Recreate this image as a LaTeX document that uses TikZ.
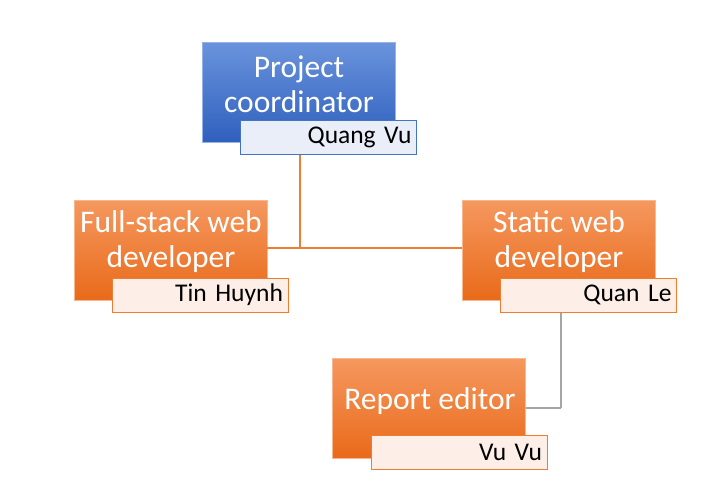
\documentclass[tikz,border=0pt]{standalone}
\usepackage{fontspec}
\setmainfont{Carlito}
\definecolor{bluetop}{HTML}{6A93DC}
\definecolor{bluebot}{HTML}{2F60BE}
\definecolor{blueedge}{HTML}{4472C4}
\definecolor{bluesub}{HTML}{E9EEF8}
\definecolor{orgtop}{HTML}{F5985F}
\definecolor{orgbot}{HTML}{E96A1A}
\definecolor{orgedge}{HTML}{ED7D31}
\definecolor{orgsub}{HTML}{FDEFE7}
\definecolor{linegray}{HTML}{A5A5A5}
\begin{document}
\begin{tikzpicture}[x=1pt,y=-1pt,
  rolebox/.style={rectangle,minimum width=193pt,minimum height=100pt,inner sep=0pt},
  bluebox/.style={rolebox,top color=bluetop,bottom color=bluebot,draw=bluetop!70!white,line width=0.8pt},
  orgbox/.style={rolebox,top color=orgtop,bottom color=orgbot,draw=orgtop!70!white,line width=0.8pt},
  roletext/.style={text=white,font=\fontsize{31.5}{35}\selectfont,align=center,inner sep=0pt},
  namebox/.style={rectangle,minimum width=176pt,minimum height=34pt,inner sep=0pt,line width=1pt,
    font=\fontsize{25.5}{28}\selectfont,align=right,text width=166pt},
  bluename/.style={namebox,fill=bluesub,draw=blueedge},
  orgname/.style={namebox,fill=orgsub,draw=orgedge},
  orgline/.style={draw=orgedge,line width=1.5pt},
  grayline/.style={draw=linegray,line width=1.5pt}
]
\useasboundingbox (0,0) rectangle (724,479);
\coordinate (j1) at (300,248);
\coordinate (j2) at (561,408);
\node[bluebox] (pc) at (299,92.5) {};
\node[orgbox] (fs) at (170.5,250) {};
\node[orgbox] (sw) at (558.5,250) {};
\node[orgbox] (re) at (429,408) {};
\draw[orgline] (fs.east |- j1) -- (sw.west |- j1);
\draw[grayline] (re.east |- j2) -- (j2);
\node[roletext] (pct) at (299,84) {Project\\coordinator};
\node[roletext] (fst) at (171,242) {Full-stack web\\developer};
\node[roletext] (swt) at (559,242) {Static web\\developer};
\node[roletext] (ret) at (430,401) {Report editor};
\node[bluename] (pcn) at (328.5,137) {Quang Vu};
\node[orgname] (fsn) at (200,295) {Tin Huynh};
\node[orgname] (swn) at (588.5,295) {Quan Le};
\node[orgname] (ren) at (459,452.5) {Vu Vu};
\draw[orgline] (pcn.south -| j1) -- (j1);
\draw[grayline] (swn.south -| j2) -- (j2);
\end{tikzpicture}
\end{document}
